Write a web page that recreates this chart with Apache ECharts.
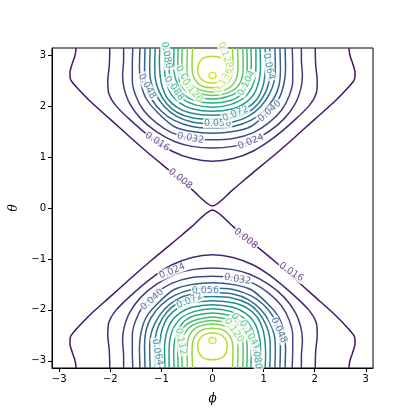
<!DOCTYPE html>
<html>
<head>
<meta charset="utf-8">
<script src="https://cdn.jsdelivr.net/npm/echarts@6/dist/echarts.min.js"></script>
<style>
  html, body { margin: 0; padding: 0; background: #fff; }
  #chart { width: 415px; height: 415px; }
</style>
</head>
<body>
<div id="chart"></div>
<script>
// contour levels (matplotlib default levels, colour norm runs 0 .. 0.152)
const levels = [0.008, 0.016, 0.024, 0.032, 0.040, 0.048, 0.056, 0.064, 0.072,
                0.080, 0.088, 0.096, 0.104, 0.112, 0.120, 0.128];
// right half of each upper-lobe contour, [phi, theta]
const halves = [
  [[0,0.04],[0.4,0.36],[0.8,0.70],[1.2,1.03],[1.6,1.38],[2.0,1.74],[2.4,2.10],[2.65,2.36],[2.78,2.53],[2.79,2.66],[2.74,2.85],[2.69,3.0],[2.67,3.1416]],
  [[0,0.92],[0.4,0.97],[0.8,1.12],[1.2,1.38],[1.6,1.72],[1.9,2.02],[2.03,2.25],[2.05,2.5],[2.02,2.8],[2.01,3.1416]],
  [[0,1.18],[0.4,1.21],[0.73,1.30],[1.1,1.50],[1.4,1.75],[1.62,2.05],[1.73,2.35],[1.76,2.6],[1.74,2.9],[1.74,3.1416]],
  [[0,1.34],[0.43,1.37],[0.8,1.48],[1.1,1.67],[1.35,1.92],[1.5,2.2],[1.57,2.5],[1.57,2.8],[1.56,3.1416]],
  [[0,1.47],[0.4,1.50],[0.75,1.60],[1.08,1.88],[1.3,2.15],[1.40,2.45],[1.43,2.75],[1.42,3.1416]],
  [[0,1.57],[0.4,1.60],[0.75,1.72],[1.0,1.90],[1.2,2.15],[1.30,2.4],[1.33,2.7],[1.32,3.1416]],
  [[0,1.66],[0.4,1.69],[0.7,1.80],[0.95,2.0],[1.12,2.25],[1.21,2.5],[1.23,2.8],[1.22,3.1416]],
  [[0,1.74],[0.4,1.77],[0.7,1.88],[0.9,2.05],[1.05,2.3],[1.12,2.55],[1.13,2.85],[1.12,3.1416]],
  [[0,1.82],[0.45,1.87],[0.7,1.98],[0.88,2.15],[0.99,2.4],[1.03,2.65],[1.04,2.9],[1.03,3.1416]],
  [[0,1.90],[0.4,1.95],[0.65,2.07],[0.82,2.25],[0.91,2.5],[0.94,2.75],[0.93,3.1416]],
  [[0,1.98],[0.35,2.03],[0.6,2.15],[0.75,2.33],[0.83,2.55],[0.85,2.8],[0.85,3.1416]],
  [[0,2.06],[0.35,2.11],[0.55,2.22],[0.67,2.4],[0.74,2.6],[0.76,2.85],[0.75,3.1416]],
  [[0,2.14],[0.3,2.19],[0.5,2.28],[0.62,2.42],[0.67,2.6],[0.68,2.85],[0.67,3.1416]],
  [[0,2.21],[0.3,2.26],[0.47,2.36],[0.56,2.5],[0.60,2.7],[0.60,2.9],[0.59,3.1416]],
  [[0,2.28],[0.25,2.32],[0.4,2.42],[0.48,2.58],[0.50,2.8],[0.49,3.1416]],
  [[0,2.36],[0.2,2.39],[0.32,2.49],[0.39,2.64],[0.40,2.85],[0.39,3.1416]]
];
// closed loops around the peak
const loopLevels = [0.136, 0.144];
const loopHalves = [
  [[0,2.45],[0.15,2.48],[0.25,2.57],[0.29,2.69],[0.27,2.83],[0.2,2.93],[0.1,2.97],[0,2.98]],
  [[0,2.54],[0.05,2.555],[0.07,2.6],[0.05,2.645],[0,2.66]]
];
// inline labels: [phi, theta, level, rotation]
const labelsUpper = [
  [-0.63,0.57,0.008,-38],[-1.08,1.30,0.016,-33],[0.75,1.30,0.024,22],[-0.43,1.37,0.032,-10],
  [1.12,1.90,0.040,42],[-1.28,2.39,0.048,-62],[0.10,1.66,0.056,0],[1.10,2.78,0.064,-78],
  [0.45,1.85,0.072,22],[-0.90,3.00,0.080,-80],[-0.75,2.35,0.088,-55],[-0.55,2.55,0.096,-60],
  [0.67,2.45,0.104,62],[-0.40,2.30,0.120,-50],[0.25,3.00,0.128,-70],[0.22,2.50,0.136,60]
];
const labelsLower = [
  [0.65,-0.60,0.008,-38],[1.54,-1.26,0.016,-33],[-0.79,-1.24,0.024,22],[0.49,-1.40,0.032,-10],
  [-1.18,-1.80,0.040,42],[1.30,-2.40,0.048,-65],[-0.14,-1.62,0.056,0],[-1.08,-2.83,0.064,-80],
  [-0.45,-1.82,0.072,22],[0.86,-2.90,0.080,-80],[-0.62,-2.62,0.112,-80],[0.55,-2.30,0.096,-55],
  [0.70,-2.45,0.104,-60],[0.42,-2.40,0.120,-55]
];
const ticks = [-3, -2, -1, 0, 1, 2, 3];

const viridis = ['#440154','#482475','#414487','#355f8d','#2a788e','#21918c',
                 '#22a884','#44bf70','#7ad151','#bddf26','#fde725'];
function hex(c) { return [1,3,5].map(i => parseInt(c.substr(i,2),16)); }
function colorOf(level) {
  let t = Math.min(1, Math.max(0, level / 0.152)) * 10;
  let i = Math.min(9, Math.floor(t)), f = t - i;
  let a = hex(viridis[i]), b = hex(viridis[i+1]);
  return 'rgb(' + a.map((v,k) => Math.round(v + (b[k]-v)*f)).join(',') + ')';
}

function mirrorFull(half) {
  // left half (mirrored) then the right half
  const left = half.slice().reverse().map(p => [-p[0], p[1]]);
  return left.concat(half.slice(1));
}
function flipTheta(pts) { return pts.map(p => [p[0], -p[1]]); }

const series = [];
function addLine(pts, level) {
  series.push({
    type: 'line', data: pts, smooth: 0.25, symbol: 'none', silent: true,
    lineStyle: { color: colorOf(level), width: 1.5 }, z: 2
  });
}
halves.forEach((h, i) => {
  const full = mirrorFull(h);
  addLine(full, levels[i]);
  addLine(flipTheta(full), levels[i]);
});
loopHalves.forEach((h, i) => {
  // up the right side, back down the left side
  const closed = h.concat(h.slice().reverse().slice(1).map(p => [-p[0], p[1]]));
  addLine(closed, loopLevels[i]);
  addLine(flipTheta(closed), loopLevels[i]);
});

const labelData = labelsUpper.concat(labelsLower).map(l => ({
  value: [l[0], l[1]],
  label: { rotate: l[3], color: colorOf(l[2]), formatter: l[2].toFixed(3) }
}));
series.push({
  type: 'scatter', data: labelData, symbolSize: 0, silent: true, z: 5,
  label: {
    show: true, position: 'inside', fontSize: 9.5, fontFamily: 'DejaVu Sans',
    backgroundColor: '#fff', padding: [0, 1]
  }
});

const fmt = v => (v < 0 ? '\u2212' + (-v) : '' + v);
const chart = echarts.init(document.getElementById('chart'));
chart.setOption({
  animation: false,
  grid: { left: 52, right: 42, top: 48, bottom: 47, show: true,
          borderColor: '#000', borderWidth: 1, backgroundColor: 'transparent' },
  xAxis: {
    type: 'value', min: -Math.PI, max: Math.PI, name: 'ϕ', nameLocation: 'middle', nameGap: 25,
    nameTextStyle: { fontFamily: 'DejaVu Serif', fontStyle: 'italic', fontSize: 12, color: '#000' },
    axisLine: { show: true, onZero: false, lineStyle: { color: '#000' } },
    splitLine: { show: false },
    axisLabel: { fontFamily: 'DejaVu Sans', fontSize: 10, color: '#000', margin: 6,
                 customValues: ticks, formatter: fmt },
    axisTick: { show: true, length: 4, customValues: ticks, lineStyle: { color: '#000' } }
  },
  yAxis: {
    type: 'value', min: -Math.PI, max: Math.PI, name: 'θ', nameLocation: 'middle', nameGap: 25,
    nameTextStyle: { fontFamily: 'DejaVu Serif', fontStyle: 'italic', fontSize: 12, color: '#000' },
    axisLine: { show: true, onZero: false, lineStyle: { color: '#000' } },
    splitLine: { show: false },
    axisLabel: { fontFamily: 'DejaVu Sans', fontSize: 10, color: '#000', margin: 6,
                 customValues: ticks, formatter: fmt },
    axisTick: { show: true, length: 4, customValues: ticks, lineStyle: { color: '#000' } }
  },
  series: series
});
</script>
</body>
</html>
